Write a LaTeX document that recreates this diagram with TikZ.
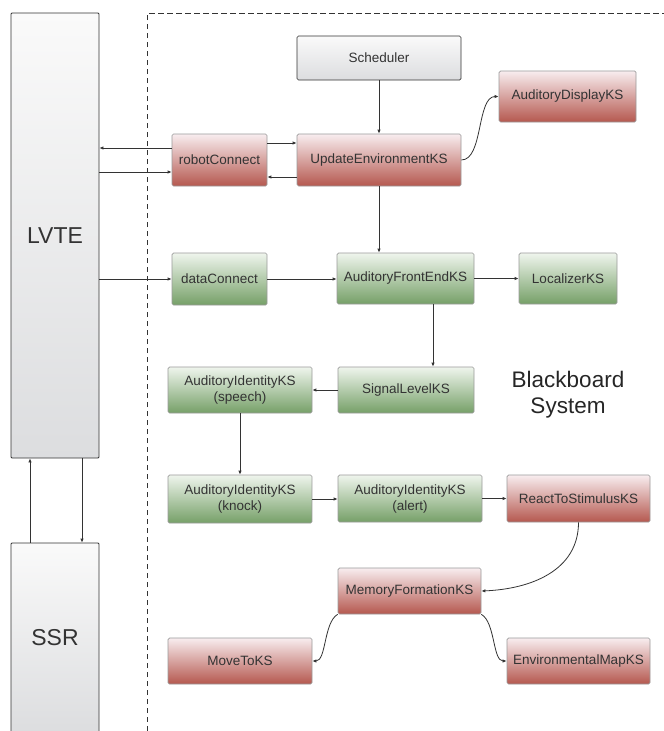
\documentclass[tikz,border=0pt]{standalone}
\usepackage{fontspec}
\setmainfont{Liberation Sans}
\usetikzlibrary{arrows.meta}
\definecolor{linecol}{HTML}{333333}
\definecolor{txtcol}{HTML}{333333}
\definecolor{redtop}{HTML}{F8EDEF}
\definecolor{redmid}{HTML}{D89AA0}
\definecolor{redbot}{HTML}{B5584F}
\definecolor{greentop}{HTML}{EFF5ED}
\definecolor{greenmid}{HTML}{B4CEAC}
\definecolor{greenbot}{HTML}{76A068}
\definecolor{graytop}{HTML}{FAFAFA}
\definecolor{graybot}{HTML}{DCDDDF}
\definecolor{boxedge}{HTML}{9A9A9A}
\tikzset{
  ks/.style={rectangle, rounded corners=1.5pt, draw=boxedge, line width=0.7pt,
    inner sep=0pt, align=center, text=txtcol,
    font=\fontsize{13.5}{16}\selectfont},
  redks/.style={ks, top color=redtop, middle color=redmid, bottom color=redbot},
  greenks/.style={ks, top color=greentop, middle color=greenmid, bottom color=greenbot},
  grayks/.style={ks, draw=linecol, top color=graytop, bottom color=graybot},
  sysbox/.style={rectangle, rounded corners=1pt, draw=linecol, line width=0.8pt,
    inner sep=0pt, text=txtcol, top color=graytop, bottom color=graybot,
    font=\fontsize{23}{26}\selectfont},
  arr/.style={draw=linecol, line width=0.8pt, -{Latex[length=4pt,width=3.5pt]}},
}
\begin{document}
\begin{tikzpicture}[x=1pt, y=-1pt]
\useasboundingbox (0,0) rectangle (664,731);

% blackboard system region (continues past the right and bottom edges)
\draw[linecol, line width=0.8pt, dash pattern=on 5.5pt off 3.5pt]
  (147,740) -- (147,13) -- (670,13);

% external systems
\node[sysbox, minimum width=88pt, minimum height=445pt] (lvte) at (55,235.5) {LVTE};
\node[sysbox, minimum width=88pt, minimum height=190pt] (ssr) at (55,638) {SSR};

% knowledge sources
\node[grayks, minimum width=164pt, minimum height=44pt] (sched) at (379,58) {Scheduler};
\node[redks, minimum width=164pt, minimum height=52pt] (upd) at (379,160) {UpdateEnvironmentKS};
\node[redks, minimum width=137pt, minimum height=51pt] (disp) at (567.5,96.5) {AuditoryDisplayKS};
\node[redks, minimum width=95pt, minimum height=52pt] (robot) at (219.5,160) {robotConnect};
\node[greenks, minimum width=95pt, minimum height=52pt] (data) at (219.5,279) {dataConnect};
\node[greenks, minimum width=137pt, minimum height=51pt] (afe) at (405.5,278.5) {AuditoryFrontEndKS};
\node[greenks, minimum width=98pt, minimum height=51pt] (loc) at (568,278.5) {LocalizerKS};
\node[greenks, minimum width=144pt, minimum height=46pt] (speech) at (240,390) {AuditoryIdentityKS\\(speech)};
\node[greenks, minimum width=136pt, minimum height=46pt] (signal) at (406,390) {SignalLevelKS};
\node[greenks, minimum width=144pt, minimum height=48pt] (knock) at (240,499) {AuditoryIdentityKS\\(knock)};
\node[greenks, minimum width=144pt, minimum height=47pt] (alert) at (410,498.5) {AuditoryIdentityKS\\(alert)};
\node[redks, minimum width=143pt, minimum height=47pt] (react) at (578.5,498.5) {ReactToStimulusKS};
\node[redks, minimum width=143pt, minimum height=46pt] (mem) at (409.5,591) {MemoryFormationKS};
\node[redks, minimum width=144pt, minimum height=46pt] (move) at (240,661) {MoveToKS};
\node[redks, minimum width=143pt, minimum height=46pt] (envmap) at (578.5,661) {EnvironmentalMapKS};

\node[align=center, text=black!85, font=\fontsize{22.5}{26.5}\selectfont] (bb) at (568,394.5) {Blackboard\\System};

% connectors
\draw[arr] (robot.west |- 0,148) -- (lvte.east |- 0,148);
\draw[arr] (lvte.east |- 0,172) -- (robot.west |- 0,172);
\draw[arr] (robot.east |- 0,143) -- (upd.west |- 0,143);
\draw[arr] (upd.west |- 0,177) -- (robot.east |- 0,177);
\draw[arr] (sched.south) -- (upd.north);
\draw[arr] (upd.east) .. controls +(22,0) and +(-22,0) .. (disp.west);
\draw[arr] (upd.south) -- (upd.south |- afe.north);
\draw[arr] (lvte.east |- data.west) -- (data.west);
\draw[arr] (data.east) -- (afe.west |- data.east);
\draw[arr] (afe.east) -- (loc.west);
\draw[arr] ([xshift=27.5pt]afe.south) -- ([xshift=27.5pt]afe.south |- signal.north);
\draw[arr] (signal.west) -- (speech.east);
\draw[arr] (speech.south) -- (knock.north);
\draw[arr] (knock.east |- 0,499) -- (alert.west |- 0,499);
\draw[arr] (alert.east) -- (react.west);
\draw[arr] (react.south) .. controls +(0,48) and +(50,-2) .. (mem.east);
\draw[arr] (mem.south west) .. controls +(-14,8) and +(14,0) .. (move.east);
\draw[arr] (mem.south east) .. controls +(14,8) and +(-14,0) .. (envmap.west);
\draw[arr] ([xshift=-25pt]ssr.north) -- ([xshift=-25pt]lvte.south);
\draw[arr] ([xshift=27pt]lvte.south) -- ([xshift=27pt]ssr.north);
\end{tikzpicture}
\end{document}
